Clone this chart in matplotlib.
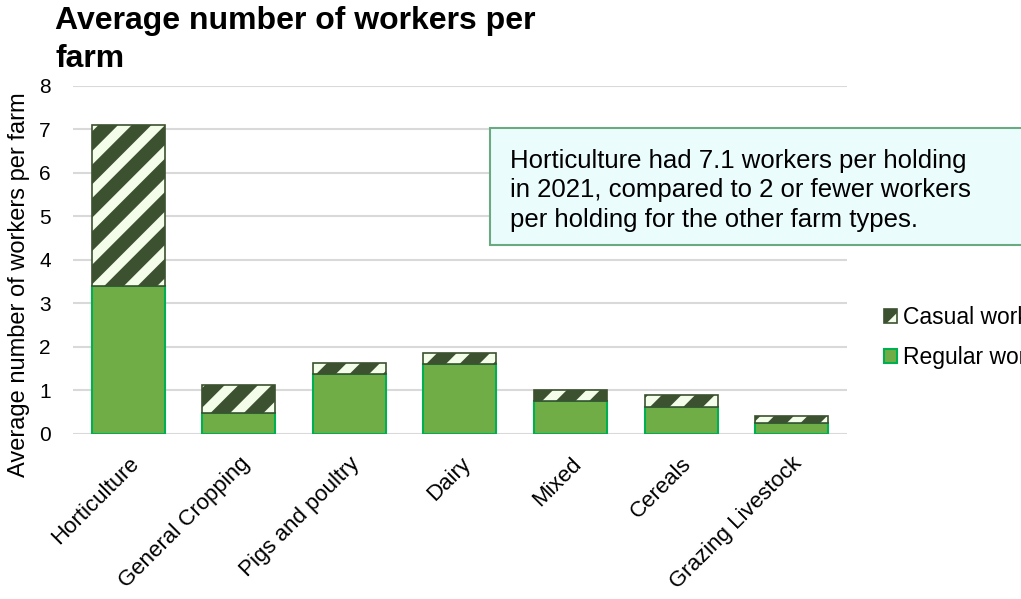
import numpy as np
import matplotlib
matplotlib.use("Agg")
import matplotlib.pyplot as plt
from matplotlib.patches import Rectangle

farm_types = ["Horticulture", "General Cropping", "Pigs and poultry", "Dairy",
              "Mixed", "Cereals", "Grazing Livestock"]
regular_workers = [3.4, 0.48, 1.37, 1.60, 0.75, 0.63, 0.26]
casual_workers = [3.7, 0.65, 0.26, 0.26, 0.25, 0.26, 0.16]
y_ticks = [0, 1, 2, 3, 4, 5, 6, 7, 8]

plt.rcParams["font.family"] = ["Liberation Sans", "DejaVu Sans"]
plt.rcParams["hatch.linewidth"] = 10

fig = plt.figure(figsize=(10.21, 5.99), dpi=100)
ax = fig.add_axes([0.0715, 0.2755, 0.758, 0.581])

x = np.arange(len(farm_types))
reg = ax.bar(x, regular_workers, width=0.66, color="#70ad47", edgecolor="#00b050",
             linewidth=1.5, label="Regular workers", zorder=3)
cas = ax.bar(x, casual_workers, width=0.66, bottom=regular_workers, facecolor="#f3fde9",
             edgecolor="#3c5130", linewidth=1.2, hatch="/", label="Casual workers", zorder=3)

ax.set_xlim(-0.5, len(farm_types) - 0.5)
ax.set_ylim(0, 8)
ax.set_yticks(y_ticks)
ax.tick_params(axis="y", length=0, labelsize=15, pad=16)
ax.tick_params(axis="x", length=0, pad=14)
ax.set_xticks(x)
ax.set_xticklabels(farm_types, rotation=45, ha="right", rotation_mode="anchor", fontsize=16)
ax.grid(axis="y", color="#d9d9d9", linewidth=1.5, zorder=0)
ax.set_axisbelow(True)
for s in ax.spines.values():
    s.set_visible(False)
ax.set_ylabel("Average number of workers per farm", fontsize=17)
ax.yaxis.set_label_coords(-0.055, 0.43)

fig.text(0.054, 0.99, "Average number of workers per\nfarm", fontsize=23, fontweight="bold",
         va="top", ha="left", linespacing=1.33)

# note box, runs off the right edge like the original
fig.add_artist(Rectangle((0.48, 0.591), 0.55, 0.195, transform=fig.transFigure,
                         facecolor="#ebfcfd", edgecolor="#6aaa80", linewidth=1.5, zorder=5))
fig.text(0.4995, 0.682, "Horticulture had 7.1 workers per holding\nin 2021, compared to 2 or fewer workers\n"
         "per holding for the other farm types.", fontsize=18.5, va="center", ha="left",
         linespacing=1.3, zorder=6)

fig.legend([cas, reg], ["Casual workers", "Regular workers"], loc="center left",
           bbox_to_anchor=(0.866, 0.436), frameon=False, fontsize=16.5, handlelength=0.57,
           handleheight=0.57, handletextpad=0.25, labelspacing=0.75, borderaxespad=0,
           borderpad=0)

fig.savefig("out.png", dpi=100)
